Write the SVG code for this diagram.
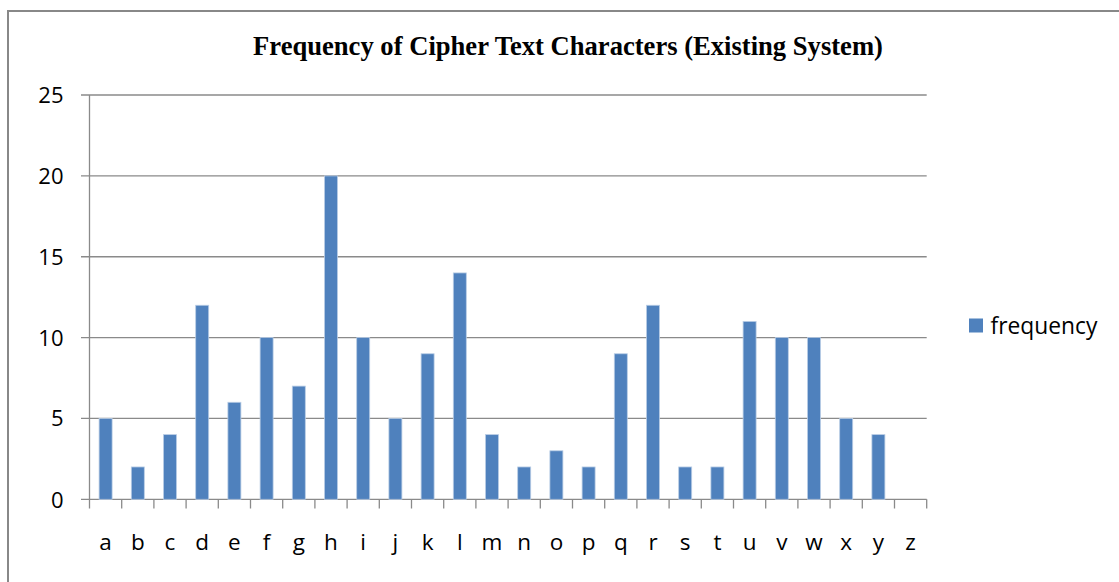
<svg xmlns="http://www.w3.org/2000/svg" width="1119" height="582" viewBox="0 0 1119 582">
  <style>
    .frame { fill: none; stroke: #888888; stroke-width: 2; }
    .grid { fill: none; stroke: #8a8a8a; stroke-width: 1.3; }
    .bar { fill: #4f81bd; stroke: #b9cde5; stroke-width: 0.8; }
    .title { font-family: "Liberation Serif", "Times New Roman", serif; font-weight: bold; font-size: 26.6px; fill: #000; }
    .ylab { font-family: "Open Sans", "Noto Sans", sans-serif; font-size: 22px; fill: #000; text-anchor: end; }
    .xlab { font-family: "Open Sans", "Noto Sans", sans-serif; font-size: 22.5px; fill: #000; text-anchor: middle; }
    .legend { font-family: "Open Sans", "Noto Sans", sans-serif; font-size: 22.8px; fill: #000; }
  </style>
  <rect width="1119" height="582" fill="#ffffff"/>

  <!-- chart frame (left and top edges visible) -->
  <path class="frame" d="M8 582 V11 H1119"/>

  <!-- title -->
  <text class="title" x="568" y="55" text-anchor="middle">Frequency of Cipher Text Characters (Existing System)</text>

  <!-- gridlines and axes -->
  <g id="axes">
    <path class="grid" d="M81 95 H926.7 M81 175.9 H926.7 M81 256.75 H926.7 M81 337.6 H926.7 M81 418.45 H926.7 M81 499.3 H926.7"/>
    <path class="grid" d="M89.5 95 V508.5"/>
    <path class="grid" d="M121.7 499.3 V508.5 M153.9 499.3 V508.5 M186.1 499.3 V508.5 M218.3 499.3 V508.5 M250.5 499.3 V508.5 M282.7 499.3 V508.5 M314.9 499.3 V508.5 M347.1 499.3 V508.5 M379.3 499.3 V508.5 M411.5 499.3 V508.5 M443.7 499.3 V508.5 M475.9 499.3 V508.5 M508.1 499.3 V508.5 M540.3 499.3 V508.5 M572.5 499.3 V508.5 M604.7 499.3 V508.5 M636.9 499.3 V508.5 M669.1 499.3 V508.5 M701.3 499.3 V508.5 M733.5 499.3 V508.5 M765.7 499.3 V508.5 M797.9 499.3 V508.5 M830.1 499.3 V508.5 M862.3 499.3 V508.5 M894.5 499.3 V508.5 M926.7 499.3 V508.5"/>
  </g>

  <!-- y axis labels -->
  <g id="y-labels">
    <text class="ylab" x="63.5" y="103">25</text>
    <text class="ylab" x="63.5" y="183.9">20</text>
    <text class="ylab" x="63.5" y="264.75">15</text>
    <text class="ylab" x="63.5" y="345.6">10</text>
    <text class="ylab" x="63.5" y="426.45">5</text>
    <text class="ylab" x="63.5" y="507.8">0</text>
  </g>

  <!-- bars: frequency per letter -->
  <g id="bars">
    <rect class="bar" x="99.1" y="418.45" width="13" height="80.85"/>
    <rect class="bar" x="131.3" y="466.96" width="13" height="32.34"/>
    <rect class="bar" x="163.5" y="434.62" width="13" height="64.68"/>
    <rect class="bar" x="195.7" y="305.26" width="13" height="194.04"/>
    <rect class="bar" x="227.9" y="402.28" width="13" height="97.02"/>
    <rect class="bar" x="260.1" y="337.6" width="13" height="161.7"/>
    <rect class="bar" x="292.3" y="386.11" width="13" height="113.19"/>
    <rect class="bar" x="324.5" y="175.9" width="13" height="323.4"/>
    <rect class="bar" x="356.7" y="337.6" width="13" height="161.7"/>
    <rect class="bar" x="388.9" y="418.45" width="13" height="80.85"/>
    <rect class="bar" x="421.1" y="353.77" width="13" height="145.53"/>
    <rect class="bar" x="453.3" y="272.92" width="13" height="226.38"/>
    <rect class="bar" x="485.5" y="434.62" width="13" height="64.68"/>
    <rect class="bar" x="517.7" y="466.96" width="13" height="32.34"/>
    <rect class="bar" x="549.9" y="450.79" width="13" height="48.51"/>
    <rect class="bar" x="582.1" y="466.96" width="13" height="32.34"/>
    <rect class="bar" x="614.3" y="353.77" width="13" height="145.53"/>
    <rect class="bar" x="646.5" y="305.26" width="13" height="194.04"/>
    <rect class="bar" x="678.7" y="466.96" width="13" height="32.34"/>
    <rect class="bar" x="710.9" y="466.96" width="13" height="32.34"/>
    <rect class="bar" x="743.1" y="321.43" width="13" height="177.87"/>
    <rect class="bar" x="775.3" y="337.6" width="13" height="161.7"/>
    <rect class="bar" x="807.5" y="337.6" width="13" height="161.7"/>
    <rect class="bar" x="839.7" y="418.45" width="13" height="80.85"/>
    <rect class="bar" x="871.9" y="434.62" width="13" height="64.68"/>
  </g>

  <!-- x axis labels -->
  <g id="x-labels">
    <text class="xlab" x="105.6" y="550">a</text>
    <text class="xlab" x="137.8" y="550">b</text>
    <text class="xlab" x="170" y="550">c</text>
    <text class="xlab" x="202.2" y="550">d</text>
    <text class="xlab" x="234.4" y="550">e</text>
    <text class="xlab" x="266.6" y="550">f</text>
    <text class="xlab" x="298.8" y="550">g</text>
    <text class="xlab" x="331" y="550">h</text>
    <text class="xlab" x="363.2" y="550">i</text>
    <text class="xlab" x="395.4" y="550">j</text>
    <text class="xlab" x="427.6" y="550">k</text>
    <text class="xlab" x="459.8" y="550">l</text>
    <text class="xlab" x="492" y="550">m</text>
    <text class="xlab" x="524.2" y="550">n</text>
    <text class="xlab" x="556.4" y="550">o</text>
    <text class="xlab" x="588.6" y="550">p</text>
    <text class="xlab" x="620.8" y="550">q</text>
    <text class="xlab" x="653" y="550">r</text>
    <text class="xlab" x="685.2" y="550">s</text>
    <text class="xlab" x="717.4" y="550">t</text>
    <text class="xlab" x="749.6" y="550">u</text>
    <text class="xlab" x="781.8" y="550">v</text>
    <text class="xlab" x="814" y="550">w</text>
    <text class="xlab" x="846.2" y="550">x</text>
    <text class="xlab" x="878.4" y="550">y</text>
    <text class="xlab" x="910.6" y="550">z</text>
  </g>

  <!-- legend -->
  <g id="legend">
    <rect x="969" y="318.5" width="14" height="14" fill="#4f81bd"/>
    <text class="legend" x="990.5" y="333.5">frequency</text>
  </g>
</svg>
